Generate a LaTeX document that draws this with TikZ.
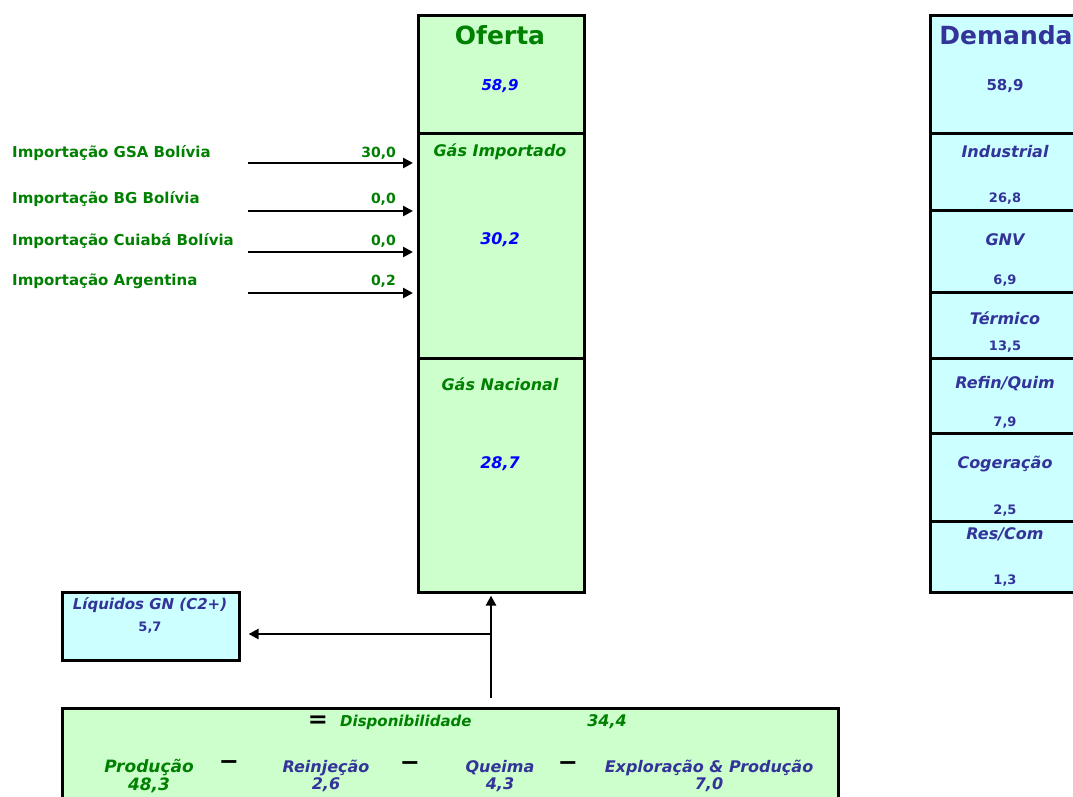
\documentclass[tikz,border=0pt]{standalone}
\usepackage{fontspec}
\setmainfont{DejaVu Sans}
\usepackage{tikz}
\usetikzlibrary{arrows.meta}
\definecolor{gfill}{HTML}{CCFFCC}
\definecolor{bfill}{HTML}{CCFFFF}
\definecolor{tgreen}{HTML}{008000}
\definecolor{tblue}{HTML}{0000FF}
\definecolor{tnavy}{HTML}{333399}
\newcommand{\fs}[1]{\fontsize{#1}{#1}\selectfont}
\begin{document}
\begin{tikzpicture}[x=1pt, y=-1pt,
    gbox/.style={draw, line width=2.6pt, fill=gfill, anchor=north west, inner sep=0pt},
    bbox/.style={draw, line width=2.6pt, fill=bfill, anchor=north west, inner sep=0pt},
    lbl/.style={inner sep=0pt, font=\fs{15}\bfseries},
    ital/.style={lbl, font=\fs{16}\bfseries\itshape},
    flow/.style={line width=2.8pt, -{Triangle[length=10pt, width=10pt]}}]
    \useasboundingbox (0,0) rectangle (1073,796);
    \clip (0,0) rectangle (1073,796);
    % oferta column
    \node[gbox, minimum width=166pt, minimum height=118pt] (oferta) at (417,14) {};
    \node[gbox, minimum width=166pt, minimum height=225pt] (gasimp) at (417,132) {};
    \node[gbox, minimum width=166pt, minimum height=234pt] (gasnac) at (417,357) {};
    \node[lbl, tgreen, font=\fs{25}\bfseries] at (500,35) {Oferta};
    \node[ital, tblue, font=\fs{15}\bfseries\itshape] at (500,86) {58,9};
    \node[ital, tgreen] at (500,152) {Gás Importado};
    \node[ital, tblue] at (500,240) {30,2};
    \node[ital, tgreen] at (500,384) {Gás Nacional};
    \node[ital, tblue] at (500,464) {28,7};
    % demanda column
    \node[bbox, minimum width=152pt, minimum height=118pt] (demanda) at (929,14) {};
    \node[bbox, minimum width=152pt, minimum height=77pt] (industrial) at (929,132) {};
    \node[bbox, minimum width=152pt, minimum height=82pt] (gnv) at (929,209) {};
    \node[bbox, minimum width=152pt, minimum height=66pt] (termico) at (929,291) {};
    \node[bbox, minimum width=152pt, minimum height=75pt] (refin) at (929,357) {};
    \node[bbox, minimum width=152pt, minimum height=88pt] (cogeracao) at (929,432) {};
    \node[bbox, minimum width=152pt, minimum height=71pt] (rescom) at (929,520) {};
    \node[lbl, tnavy, font=\fs{25}\bfseries] at (1006,35) {Demanda};
    \node[lbl, tnavy] at (1005,86) {58,9};
    \node[ital, tnavy] at (1005,152) {Industrial};
    \node[lbl, tnavy, font=\fs{13}\bfseries] at (1005,199) {26,8};
    \node[ital, tnavy] at (1005,240) {GNV};
    \node[lbl, tnavy, font=\fs{13}\bfseries] at (1005,281) {6,9};
    \node[ital, tnavy] at (1005,318) {Térmico};
    \node[lbl, tnavy, font=\fs{13}\bfseries] at (1005,347) {13,5};
    \node[ital, tnavy] at (1005,384) {Refin/Quim};
    \node[lbl, tnavy, font=\fs{13}\bfseries] at (1005,423) {7,9};
    \node[ital, tnavy] at (1005,464) {Cogeração};
    \node[lbl, tnavy, font=\fs{13}\bfseries] at (1005,511) {2,5};
    \node[ital, tnavy] at (1005,534) {Res/Com};
    \node[lbl, tnavy, font=\fs{13}\bfseries] at (1005,581) {1,3};
    % importacoes
    \foreach \name/\txt/\val/\ly/\ay in {gsa/{GSA Bolívia}/{30,0}/153/163, bg/{BG Bolívia}/{0,0}/199/211,
        cuiaba/{Cuiabá Bolívia}/{0,0}/241/252, arg/{Argentina}/{0,2}/281/293}{
      \node[lbl, tgreen, anchor=west] (imp\name) at (12,\ly) {Importação \txt};
      \node[lbl, tgreen, font=\fs{14}\bfseries, anchor=east] (val\name) at (396,\ly) {\val};
      \coordinate (from\name) at (248,\ay);
      \draw[flow, shorten >=4pt] (from\name) -- (from\name -| gasimp.west);
    }
    % liquidos
    \node[bbox, minimum width=177pt, minimum height=68pt] (liquidos) at (61,591) {};
    \node[ital, tnavy, font=\fs{15}\bfseries\itshape] at (150,605) {Líquidos GN (C2+)};
    \node[lbl, tnavy, font=\fs{13}\bfseries] at (150,628) {5,7};
    % disponibilidade
    \node[gbox, minimum width=776pt, minimum height=130pt] (disp) at (61,707) {};
    \node[lbl, font=\fs{24}\bfseries] at (318,722) {=};
    \node[ital, tgreen, font=\fs{15}\bfseries\itshape, anchor=west] at (340,722) {Disponibilidade};
    \node[ital, tgreen] at (607,722) {34,4};
    \node[ital, tgreen, font=\fs{17}\bfseries\itshape] at (149,768) {Produção};
    \node[ital, tgreen, font=\fs{17}\bfseries\itshape] at (149,785) {48,3};
    \node[lbl, font=\fs{24}\bfseries] at (229,765) {−};
    \node[ital, tnavy] at (326,768) {Reinjeção};
    \node[ital, tnavy] at (326,785) {2,6};
    \node[lbl, font=\fs{24}\bfseries] at (410,766) {−};
    \node[ital, tnavy] at (500,768) {Queima};
    \node[ital, tnavy] at (500,785) {4,3};
    \node[lbl, font=\fs{24}\bfseries] at (568,766) {−};
    \node[ital, tnavy] at (709,768) {Exploração \& Produção};
    \node[ital, tnavy] at (709,785) {7,0};
    % fluxos
    \coordinate (split) at (491,634);
    \draw[flow, shorten >=2pt] (491,698) -- (gasnac.south -| split);
    \draw[flow, shorten >=8pt] (split) -- (split -| liquidos.east);
\end{tikzpicture}
\end{document}
